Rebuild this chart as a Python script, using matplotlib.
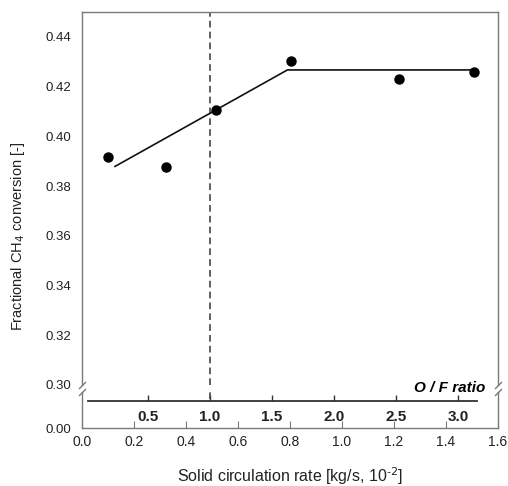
import matplotlib
matplotlib.use("Agg")
import matplotlib.pyplot as plt
import numpy as np

plt.rcParams['font.family'] = ['Liberation Sans', 'DejaVu Sans']

# data
rate_x = [0.101, 0.323, 0.515, 0.804, 1.219, 1.509]
conversion_y = [0.3918, 0.3876, 0.4104, 0.4301, 0.4232, 0.4258]
fit_x = [0.127, 0.79, 1.508]
fit_y = [0.3879, 0.4267, 0.4267]
stoich_of = 1.0  # vertical dashed line at O/F = 1.0
of_ticks = [0.5, 1.0, 1.5, 2.0, 2.5, 3.0]
x_ticks = [0.0, 0.2, 0.4, 0.6, 0.8, 1.0, 1.2, 1.4, 1.6]
y_ticks = [0.30, 0.32, 0.34, 0.36, 0.38, 0.40, 0.42, 0.44]

# O/F ratio <-> solid circulation rate mapping
OF_A, OF_B = 0.0156, 0.4768
def x_to_of(x):
    return (np.asarray(x) - OF_A) / OF_B
def of_to_x(o):
    return OF_A + OF_B * np.asarray(o)

W, H = 508, 486
fig = plt.figure(figsize=(W / 100, H / 100), dpi=100)

spine_c = '#7a7a7a'
text_c = '#222222'
fs = 9.5

left = 82 / W
width = 416 / W
ax = fig.add_axes([left, 1 - 385 / H, width, (385 - 12) / H])
axb = fig.add_axes([left, 1 - 428 / H, width, (428 - 392) / H])

for a in (ax, axb):
    for s in a.spines.values():
        s.set_color(spine_c)
        s.set_linewidth(1.0)
    a.set_xlim(0, 1.6)
    a.tick_params(colors=text_c, labelsize=fs)

# upper axes
ax.set_ylim(0.30, 0.45)
ax.set_yticks(y_ticks)
ax.set_yticklabels([f"{v:.2f}" for v in y_ticks])
ax.tick_params(axis='y', length=0, pad=8)
ax.tick_params(axis='x', bottom=False, labelbottom=False)
ax.spines['bottom'].set_visible(False)

ax.plot(fit_x, fit_y, color='#111111', lw=1.2, zorder=2)
ax.plot(rate_x, conversion_y, 'o', color='black', ms=6.5, zorder=3)
xd = float(of_to_x(stoich_of))
ax.axvline(xd, color='#444444', lw=1.2, ls=(0, (4, 2.5)), zorder=1)
axb.axvline(xd, ymin=0.8, ymax=1.0, color='#444444', lw=1.2, ls=(0, (4, 2.5)), zorder=1)

# lower axes
axb.set_ylim(0, 1)
axb.set_yticks([0])
axb.set_yticklabels(["0.00"])
axb.tick_params(axis='y', length=0, pad=8)
axb.spines['top'].set_visible(False)
axb.set_xticks(x_ticks)
axb.set_xticklabels([f"{v:.1f}" for v in x_ticks])
axb.tick_params(axis='x', direction='in', length=5, width=0.8, color=spine_c, pad=5,
                labelsize=fs + 0.5)

# O/F secondary axis
sec = axb.secondary_xaxis(0.76, functions=(x_to_of, of_to_x))
sec.set_alignment('bottom')
sec.set_xticks(of_ticks)
sec.set_xticklabels([f"{v:.1f}" for v in of_ticks], fontweight='bold')
sec.tick_params(axis='x', direction='in', length=4, width=1.0, color='#333333',
                labelsize=fs + 1.5, labelcolor=text_c, pad=7)
sec.spines['bottom'].set_color('#333333')
sec.spines['bottom'].set_linewidth(1.3)
sec.spines['bottom'].set_bounds(float(x_to_of(0.023)), float(x_to_of(1.52)))

axb.text(485 / W, 1 - 388 / H, "O / F ratio", transform=fig.transFigure,
         ha='right', va='center', fontsize=11, fontweight='bold',
         fontstyle='italic', color='black')

# break marks
d = 5
kw = dict(marker=[(-1, -1), (1, 1)], markersize=d, linestyle='none',
          color=spine_c, mec=spine_c, mew=1.0, clip_on=False)
ax.plot([0, 1], [0, 0], transform=ax.transAxes, **kw)
axb.plot([0, 1], [1, 1], transform=axb.transAxes, **kw)

fig.text(18 / W, 1 - 236 / H, "Fractional CH$_4$ conversion [-]", rotation=90,
         ha='center', va='center', fontsize=10.5, color=text_c)
fig.text(290 / W, 1 - 476 / H, r"Solid circulation rate [kg/s, 10$^{\text{-2}}$]",
         ha='center', va='center', fontsize=11.5, color=text_c)

fig.savefig("out.png", dpi=100)
